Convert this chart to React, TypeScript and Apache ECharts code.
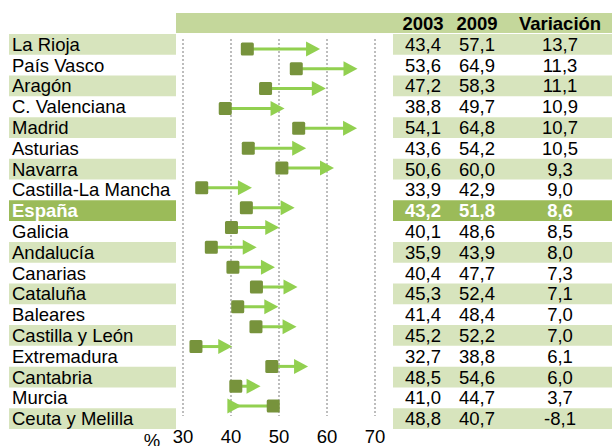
import React, { useEffect, useRef } from "react";
import * as echarts from "echarts";

const regions = [
  "La Rioja", "País Vasco", "Aragón", "C. Valenciana", "Madrid", "Asturias",
  "Navarra", "Castilla-La Mancha", "España", "Galicia", "Andalucía", "Canarias",
  "Cataluña", "Baleares", "Castilla y León", "Extremadura", "Cantabria", "Murcia",
  "Ceuta y Melilla",
];
const v2003 = [43.4, 53.6, 47.2, 38.8, 54.1, 43.6, 50.6, 33.9, 43.2, 40.1, 35.9, 40.4, 45.3, 41.4, 45.2, 32.7, 48.5, 41.0, 48.8];
const v2009 = [57.1, 64.9, 58.3, 49.7, 64.8, 54.2, 60.0, 42.9, 51.8, 48.6, 43.9, 47.7, 52.4, 48.4, 52.2, 38.8, 54.6, 44.7, 40.7];
const variacion = [13.7, 11.3, 11.1, 10.9, 10.7, 10.5, 9.3, 9.0, 8.6, 8.5, 8.0, 7.3, 7.1, 7.0, 7.0, 6.1, 6.0, 3.7, -8.1];
const headers = ["2003", "2009", "Variación"];
const highlight = "España";
const axisMin = 30;
const axisMax = 70;
const axisStep = 10;
const unitLabel = "%";

const FONT = "'Liberation Sans', Arial, sans-serif";
const FS = 18.5;
const LIGHT = "#D7E4BD";
const DARK = "#9BBB59";
const HEADER = "#C4D79B";
const SQUARE = "#77933C";
const ARROW = "#92D050";

const fmt = (v: number) => v.toFixed(1).replace(".", ",");
const bandColor = (i: number) =>
  regions[i] === highlight ? DARK : i % 2 === 0 ? LIGHT : "rgba(0,0,0,0)";

export default function App() {
  const ref = useRef<HTMLDivElement>(null);
  useEffect(() => {
    if (!ref.current) return;
    const chart = echarts.init(ref.current, undefined, { renderer: "svg" });

    const richFor = (hl: boolean) => {
      const base = {
        fontFamily: FONT,
        fontSize: FS,
        color: hl ? "#fff" : "#000",
        fontWeight: hl ? "bold" : "normal",
        align: "center",
      };
      return {
        a: { ...base, width: 60 },
        b: { ...base, width: 48 },
        c: { ...base, width: 118 },
      };
    };

    const labelMargin = 11;

    chart.setOption({
      animation: false,
      grid: [
        { left: 9, top: 34, width: 167, height: 395 },
        { left: 183, top: 39, width: 192, height: 381 },
        { left: 393, top: 34, width: 219, height: 395 },
      ],
      xAxis: [
        { type: "value", gridIndex: 0, min: 0, max: 1, show: false },
        {
          type: "value",
          gridIndex: 1,
          min: axisMin,
          max: axisMax,
          interval: axisStep,
          axisLine: { show: false },
          axisTick: { show: false },
          axisLabel: { color: "#000", fontSize: FS, fontFamily: FONT, margin: labelMargin },
          splitLine: { show: true, lineStyle: { color: "#BDBDBD", width: 2, type: [2, 2] } },
        },
        { type: "value", gridIndex: 2, min: 0, max: 1, show: false },
      ],
      yAxis: [0, 1, 2].map((g) => ({
        type: "category",
        gridIndex: g,
        data: regions,
        inverse: true,
        show: false,
      })),
      graphic: [
        { type: "rect", shape: { x: 176, y: 13, width: 436, height: 20 }, style: { fill: HEADER }, silent: true },
        ...headers.map((h, k) => ({
          type: "text",
          x: [423, 477, 560][k],
          y: 23.5,
          style: {
            text: h,
            fontFamily: FONT,
            fontSize: FS,
            fontWeight: "bold",
            fill: "#000",
            align: "center",
            verticalAlign: "middle",
          },
          silent: true,
        })),
        {
          type: "text",
          x: 152,
          y: 420 + labelMargin,
          style: {
            text: unitLabel,
            fontFamily: FONT,
            fontSize: FS,
            fill: "#000",
            align: "center",
            verticalAlign: "top",
          },
          silent: true,
        },
      ],
      series: [
        {
          type: "bar",
          xAxisIndex: 0,
          yAxisIndex: 0,
          barWidth: "100%",
          silent: true,
          data: regions.map((r, i) => ({
            value: 1,
            itemStyle: { color: bandColor(i) },
            label: {
              show: true,
              position: "insideLeft",
              distance: 3,
              formatter: r,
              fontFamily: FONT,
              fontSize: FS,
              color: r === highlight ? "#fff" : "#000",
              fontWeight: r === highlight ? "bold" : "normal",
            },
          })),
        },
        {
          type: "bar",
          xAxisIndex: 2,
          yAxisIndex: 2,
          barWidth: "100%",
          silent: true,
          data: regions.map((r, i) => ({
            value: 1,
            itemStyle: { color: bandColor(i) },
            label: {
              show: true,
              position: "insideLeft",
              distance: 0,
              formatter: `{a|${fmt(v2003[i])}}{b|${fmt(v2009[i])}}{c|${fmt(variacion[i])}}`,
              rich: richFor(r === highlight),
            },
          })),
        },
        {
          type: "custom",
          xAxisIndex: 1,
          yAxisIndex: 1,
          silent: true,
          encode: { x: [1, 2], y: 0 },
          data: regions.map((_, i) => [i, v2003[i], v2009[i]]),
          renderItem: (_params: any, api: any) => {
            const idx = api.value(0);
            const p0 = api.coord([api.value(1), idx]);
            const p1 = api.coord([api.value(2), idx]);
            const s = 13;
            return {
              type: "group",
              children: [
                {
                  type: "line",
                  shape: { x1: p0[0], y1: p0[1], x2: p1[0], y2: p1[1] },
                  style: { stroke: ARROW, lineWidth: 3 },
                },
                {
                  type: "polygon",
                  shape: {
                    points: [
                      [p1[0] - 7, p1[1] - 7.5],
                      [p1[0] + 7, p1[1]],
                      [p1[0] - 7, p1[1] + 7.5],
                    ],
                  },
                  style: { fill: ARROW },
                },
                {
                  type: "rect",
                  shape: { x: p0[0] - s / 2, y: p0[1] - s / 2, width: s, height: s, r: 1.5 },
                  style: { fill: SQUARE },
                },
              ],
            };
          },
        },
      ],
    });
    return () => chart.dispose();
  }, []);
  return (
    <div
      ref={ref}
      style={{ position: "absolute", left: 0, top: 0, width: 612, height: 446 }}
    />
  );
}
